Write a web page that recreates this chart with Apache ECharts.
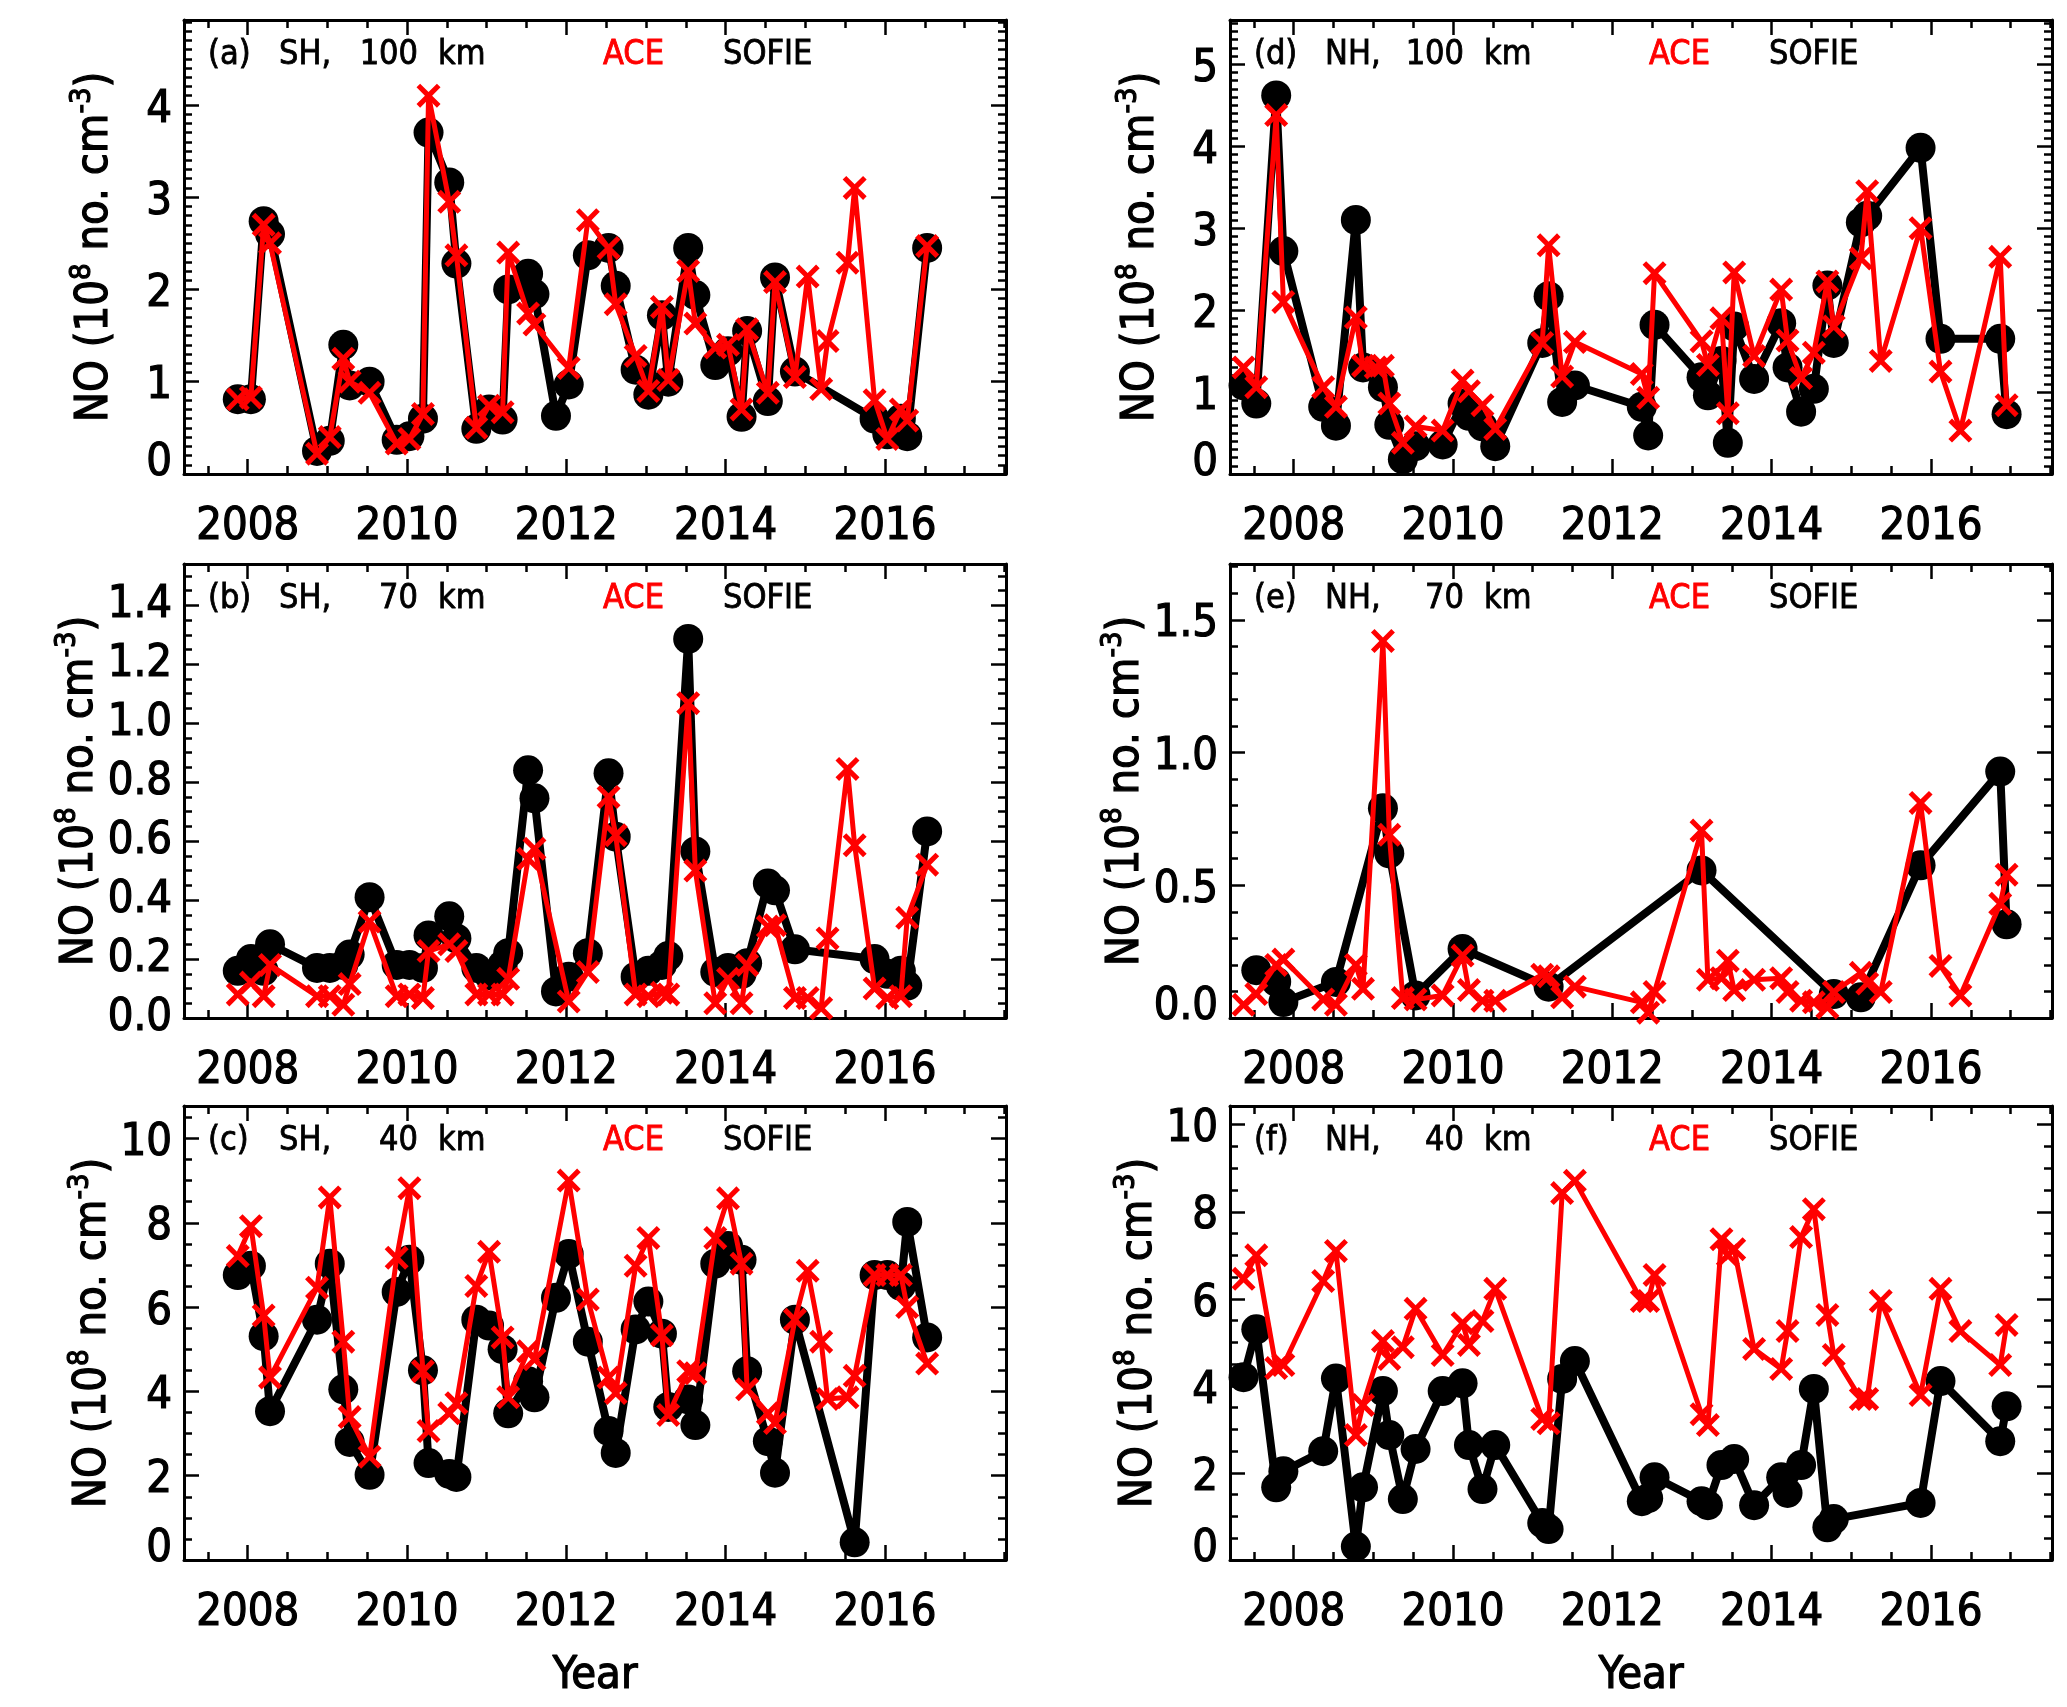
<!DOCTYPE html>
<html><head><meta charset="utf-8">
<script src="https://cdn.jsdelivr.net/npm/echarts@6/dist/echarts.min.js"></script>
<style>html,body{margin:0;padding:0;background:#fff}#c{width:2067px;height:1707px}</style>
</head><body><div id="c"></div>
<script>
// ---------- DATA ----------
const panelTags = ['(a)', '(b)', '(c)', '(d)', '(e)', '(f)'];
const panelHemis = ['SH,', 'SH,', 'SH,', 'NH,', 'NH,', 'NH,'];
const panelAlts = ['100', '70', '40', '100', '70', '40'];
const seriesNames = ['ACE', 'SOFIE'];
const yAxisTitleParts = ['NO (10', '8', ' no. cm', '-3', ')'];
const xAxisTitle = 'Year';

// (a) SH 100 km
const aSofieT = [2007.875,2008.04,2008.2,2008.28,2008.87,2009.03,2009.2,2009.28,2009.53,2009.87,2010.03,2010.2,2010.27,2010.53,2010.62,2010.87,2011.03,2011.2,2011.27,2011.52,2011.6,2011.87,2012.03,2012.27,2012.53,2012.62,2012.87,2013.03,2013.2,2013.28,2013.53,2013.62,2013.87,2014.03,2014.2,2014.27,2014.53,2014.62,2014.87,2015.87,2016.03,2016.2,2016.28,2016.53];
const aSofieV = [0.81,0.81,2.74,2.6,0.25,0.36,1.4,0.96,1.0,0.37,0.41,0.6,3.7,3.16,2.28,0.49,0.7,0.59,2.0,2.17,1.95,0.63,0.97,2.37,2.45,2.04,1.13,0.86,1.72,1.0,2.45,1.94,1.18,1.33,0.62,1.55,0.79,2.13,1.11,0.6,0.43,0.6,0.41,2.45];
const aAceT = [2007.875,2008.04,2008.2,2008.28,2008.87,2009.03,2009.2,2009.28,2009.53,2009.87,2010.03,2010.2,2010.27,2010.53,2010.62,2010.87,2011.03,2011.2,2011.27,2011.52,2011.6,2012.03,2012.27,2012.53,2012.62,2012.87,2013.03,2013.2,2013.28,2013.53,2013.62,2013.87,2014.03,2014.2,2014.27,2014.53,2014.62,2014.87,2015.03,2015.2,2015.28,2015.53,2015.62,2015.87,2016.03,2016.2,2016.28,2016.53];
const aAceV = [0.81,0.83,2.7,2.5,0.22,0.4,1.25,1.0,0.88,0.33,0.38,0.65,4.1,2.95,2.37,0.5,0.74,0.67,2.4,1.74,1.62,1.15,2.75,2.45,1.84,1.28,0.9,1.81,1.02,2.2,1.63,1.37,1.4,0.7,1.57,0.88,2.08,1.05,2.14,0.92,1.44,2.29,3.1,0.8,0.38,0.7,0.58,2.47];

// (b) SH 70 km
const bSofieT = aSofieT.slice();
const bSofieV = [0.16,0.2,0.16,0.25,0.17,0.17,0.18,0.215,0.41,0.18,0.18,0.17,0.28,0.345,0.27,0.17,0.145,0.18,0.22,0.84,0.745,0.09,0.14,0.22,0.83,0.615,0.14,0.16,0.18,0.21,1.286,0.565,0.156,0.17,0.15,0.186,0.456,0.433,0.233,0.2,0.15,0.16,0.11,0.633];
const bAceT = aAceT.slice();
const bAceV = [0.08,0.12,0.074,0.18,0.074,0.074,0.045,0.115,0.327,0.074,0.08,0.068,0.227,0.25,0.227,0.08,0.08,0.08,0.133,0.54,0.574,0.056,0.156,0.75,0.62,0.08,0.074,0.086,0.08,1.068,0.5,0.05,0.133,0.05,0.18,0.31,0.315,0.068,0.068,0.033,0.27,0.845,0.586,0.1,0.068,0.074,0.34,0.52];

// (c) SH 40 km
const cSofieT = [2007.875,2008.04,2008.2,2008.28,2008.87,2009.03,2009.2,2009.28,2009.53,2009.87,2010.03,2010.2,2010.27,2010.53,2010.62,2010.87,2011.03,2011.2,2011.27,2011.52,2011.6,2011.87,2012.03,2012.27,2012.53,2012.62,2012.87,2013.03,2013.2,2013.28,2013.53,2013.62,2013.87,2014.03,2014.2,2014.27,2014.53,2014.62,2014.87,2015.62,2015.87,2016.03,2016.2,2016.28,2016.53];
const cSofieV = [6.76,6.98,5.31,3.53,5.7,7.03,4.05,2.8,2.02,6.36,7.12,4.5,2.3,2.04,1.97,5.7,5.56,5.0,3.48,4.24,3.86,6.22,7.26,5.18,3.06,2.54,5.47,6.13,5.37,3.63,3.81,3.2,7.03,7.45,7.12,4.48,2.82,2.07,5.7,0.42,6.76,6.76,6.5,8.02,5.28];
const cAceT = aAceT.slice();
const cAceV = [7.21,7.92,5.8,4.33,6.46,8.6,5.18,3.39,2.45,7.17,8.82,4.48,3.06,3.48,3.72,6.5,7.31,5.28,3.86,4.95,4.76,9.0,6.18,4.33,3.96,6.98,7.64,5.33,3.44,4.48,4.43,7.64,8.58,7.03,4.05,3.48,3.25,5.7,6.86,5.18,3.82,3.86,4.37,6.76,6.76,6.76,6.0,4.66];

// (d) NH 100 km
const dSofieT = [2007.37,2007.53,2007.78,2007.87,2008.37,2008.53,2008.78,2008.87,2009.12,2009.2,2009.37,2009.53,2009.87,2010.12,2010.2,2010.37,2010.53,2011.12,2011.2,2011.37,2011.53,2012.37,2012.45,2012.53,2013.12,2013.2,2013.37,2013.45,2013.53,2013.78,2014.12,2014.2,2014.37,2014.53,2014.7,2014.78,2015.12,2015.2,2015.87,2016.12,2016.87,2016.95];
const dSofieV = [1.08,0.86,4.62,2.72,0.82,0.59,3.1,1.3,1.06,0.6,0.18,0.34,0.36,0.86,0.71,0.58,0.34,1.6,2.17,0.88,1.08,0.82,0.47,1.82,1.18,0.96,1.38,0.38,1.8,1.16,1.84,1.3,0.76,1.04,2.3,1.6,3.07,3.15,3.98,1.65,1.65,0.73];
const dAceT = [2007.37,2007.53,2007.78,2007.87,2008.37,2008.53,2008.78,2008.87,2009.03,2009.12,2009.2,2009.37,2009.53,2009.87,2010.12,2010.2,2010.37,2010.53,2011.12,2011.2,2011.37,2011.53,2012.37,2012.45,2012.53,2013.12,2013.2,2013.37,2013.45,2013.53,2013.78,2014.12,2014.2,2014.37,2014.53,2014.7,2014.78,2015.12,2015.2,2015.37,2015.87,2016.12,2016.37,2016.87,2016.95];
const dAceV = [1.3,1.06,4.38,2.1,1.06,0.82,1.91,1.32,1.3,1.32,0.86,0.38,0.58,0.53,1.14,1.01,0.84,0.55,1.6,2.79,1.19,1.61,1.22,0.93,2.45,1.62,1.33,1.9,0.74,2.46,1.44,2.25,1.63,1.17,1.48,2.35,1.8,2.63,3.45,1.38,3.0,1.25,0.53,2.65,0.84];

// (e) NH 70 km
const eSofieT = [2007.53,2007.78,2007.87,2008.53,2009.12,2009.2,2009.53,2010.12,2011.2,2013.12,2014.78,2015.12,2015.87,2016.87,2016.95];
const eSofieV = [0.18,0.137,0.06,0.136,0.79,0.62,0.085,0.26,0.118,0.556,0.09,0.078,0.575,0.928,0.353];
const eAceT = [2007.37,2007.53,2007.78,2007.87,2008.37,2008.53,2008.78,2008.87,2009.12,2009.2,2009.37,2009.53,2009.87,2010.12,2010.2,2010.37,2010.53,2011.12,2011.2,2011.37,2011.53,2012.37,2012.45,2012.53,2013.12,2013.2,2013.37,2013.45,2013.53,2013.78,2014.12,2014.2,2014.37,2014.53,2014.7,2014.78,2015.12,2015.2,2015.37,2015.87,2016.12,2016.37,2016.87,2016.95];
const eAceV = [0.05,0.09,0.2,0.22,0.07,0.05,0.2,0.11,1.42,0.69,0.075,0.07,0.085,0.235,0.105,0.065,0.065,0.163,0.157,0.078,0.118,0.059,0.02,0.098,0.706,0.144,0.15,0.216,0.105,0.144,0.15,0.098,0.065,0.059,0.04,0.098,0.17,0.13,0.098,0.81,0.196,0.085,0.43,0.54];

// (f) NH 40 km
const fSofieT = [2007.37,2007.53,2007.78,2007.87,2008.37,2008.53,2008.78,2008.87,2009.12,2009.2,2009.37,2009.53,2009.87,2010.12,2010.2,2010.37,2010.53,2011.12,2011.2,2011.37,2011.53,2012.37,2012.45,2012.53,2013.12,2013.2,2013.37,2013.53,2013.78,2014.12,2014.2,2014.37,2014.53,2014.7,2014.78,2015.87,2016.12,2016.87,2016.95];
const fSofieV = [4.2,5.3,1.67,2.04,2.5,4.17,0.31,1.67,3.88,2.87,1.4,2.55,3.88,4.06,2.64,1.63,2.64,0.85,0.71,4.16,4.57,1.35,1.42,1.9,1.35,1.26,2.18,2.32,1.26,1.9,1.54,2.18,3.93,0.75,0.94,1.31,4.11,2.73,3.53];
const fAceT = eAceT.slice();
const fAceV = [6.46,7.0,4.41,4.48,6.41,7.1,2.87,3.56,5.03,4.62,4.89,5.77,4.71,5.44,4.94,5.49,6.23,3.24,3.14,8.43,8.71,5.95,5.95,6.55,3.35,3.1,7.37,7.0,7.14,4.85,4.39,5.26,7.42,8.06,5.63,4.71,3.7,3.7,5.95,3.79,6.23,5.26,4.48,5.4];

// axis ranges
const xMin = 2007.2, xMax = 2017.52;
const yMaxes = [4.92, 1.54, 10.77, 5.54, 1.71, 10.43];
const yIntervals = [1, 0.2, 2, 1, 0.5, 2];
const yDecimals = [0, 1, 0, 0, 1, 0];

// ---------- LAYOUT / STYLE ----------
function hasFont(name) {
  const c = document.createElement('canvas').getContext('2d');
  const s = '2008 NO SOFIE (a) km';
  const res = [];
  for (const base of ['monospace', 'serif']) {
    c.font = '40px ' + base; const w1 = c.measureText(s).width;
    c.font = '40px "' + name + '", ' + base; const w2 = c.measureText(s).width;
    res.push(w1 !== w2);
  }
  return res[0] && res[1];
}
const COND = hasFont('DejaVu Sans Condensed');
const FONT = COND ? 'DejaVu Sans Condensed' : 'DejaVu Sans';
const FS_TICK = COND ? 45 : 41;
const FS_TITLE = COND ? 45 : 42;
const FS_SUP = COND ? 29 : 27;
const FS_PANEL = COND ? 34 : 31;
const TB = 1.2; // extra stroke to thicken glyphs

const gridPos = [[184,20],[184,564],[184,1106],[1230,20],[1230,564],[1230,1106]];
const GW = 822, GH = 454;
const yMinorSplit = [10, 4, 4, 10, 5, 4];
const labelShift = [true, false, true, true, true, true]; // nudge y labels like the original (not where ticks are dense)
const XMARK = 'path://M0,3 L3,0 L10,7 L17,0 L20,3 L13,10 L20,17 L17,20 L10,13 L3,20 L0,17 L7,10 Z';

const sofie = [[aSofieT,aSofieV],[bSofieT,bSofieV],[cSofieT,cSofieV],[dSofieT,dSofieV],[eSofieT,eSofieV],[fSofieT,fSofieV]];
const ace = [[aAceT,aAceV],[bAceT,bAceV],[cAceT,cAceV],[dAceT,dAceV],[eAceT,eAceV],[fAceT,fAceV]];
const zip = (t, v) => t.map((x, i) => [x, v[i]]);

const grids = [], xAxes = [], yAxes = [], series = [], graphics = [];
const tickStyle = {color:'#000', width:2.5};
const lineStyleAx = {color:'#000', width:3};
const txtBase = (fs) => ({fontSize: fs, fontFamily: FONT, color: '#000', textBorderColor: '#000', textBorderWidth: TB});

for (let i = 0; i < 6; i++) {
  const [gl, gt] = gridPos[i];
  grids.push({left: gl, top: gt, width: GW, height: GH, containLabel: false, outerBoundsMode: 'none'});
  const bottomPanel = (i === 2 || i === 5);
  const xBase = {
    gridIndex: i, type: 'value', min: xMin, max: xMax, minInterval: 2, maxInterval: 2,
    axisLine: {show: true, onZero: false, lineStyle: lineStyleAx},
    axisTick: {show: true, inside: true, length: 15, lineStyle: tickStyle},
    minorTick: {show: true, splitNumber: 4, length: 8, lineStyle: tickStyle},
    splitLine: {show: false}, minorSplitLine: {show: false}
  };
  xAxes.push(Object.assign({}, xBase, {
    position: 'bottom',
    axisLabel: Object.assign({show: true, showMinLabel: false, showMaxLabel: false, hideOverlap: false, margin: 31,
      formatter: v => String(Math.round(v))}, txtBase(FS_TICK)),
    name: bottomPanel ? xAxisTitle : '', nameLocation: 'middle', nameGap: 94,
    nameTextStyle: txtBase(FS_TITLE)
  }));
  xAxes.push(Object.assign({}, xBase, {position: 'top', axisLabel: {show: false}}));

  const dec = yDecimals[i];
  const sh = labelShift[i];
  const lblRich = {
    n: Object.assign({padding: sh ? [10,0,0,0] : 0}, txtBase(FS_TICK)),
    z: Object.assign({padding: sh ? [0,0,22,0] : 0}, txtBase(FS_TICK))
  };
  const yBase = {
    gridIndex: i, type: 'value', min: 0, max: yMaxes[i], interval: yIntervals[i],
    axisLine: {show: true, onZero: false, lineStyle: lineStyleAx},
    axisTick: {show: true, inside: true, length: 15, lineStyle: tickStyle},
    minorTick: {show: true, splitNumber: yMinorSplit[i], length: 8, lineStyle: tickStyle},
    splitLine: {show: false}, minorSplitLine: {show: false}
  };
  yAxes.push(Object.assign({}, yBase, {
    position: 'left',
    axisLabel: Object.assign({show: true, showMinLabel: true, showMaxLabel: false, hideOverlap: false, margin: 12,
      formatter: v => (Math.abs(v) < 1e-9 ? '{z|' + (0).toFixed(dec) + '}' : '{n|' + v.toFixed(dec) + '}'),
      rich: lblRich}, txtBase(FS_TICK)),
    name: '{b|' + yAxisTitleParts[0] + '}{s|' + yAxisTitleParts[1] + '}{b|' + yAxisTitleParts[2] + '}{s|' + yAxisTitleParts[3] + '}{b|' + yAxisTitleParts[4] + '}',
    nameLocation: 'middle', nameGap: 62,
    nameTextStyle: Object.assign({
      rich: {
        b: Object.assign({lineHeight: 54}, txtBase(FS_TITLE)),
        s: Object.assign({lineHeight: 28, verticalAlign: 'top'}, txtBase(FS_SUP))
      }}, txtBase(FS_TITLE))
  }));
  yAxes.push(Object.assign({}, yBase, {position: 'right', axisLabel: {show: false}}));

  series.push({
    name: seriesNames[1], type: 'line', xAxisIndex: 2*i, yAxisIndex: 2*i,
    data: zip(sofie[i][0], sofie[i][1]), symbol: 'circle', symbolSize: 30,
    showSymbol: true, showAllSymbol: true,
    lineStyle: {color: '#000', width: 8}, itemStyle: {color: '#000'}, z: 2, animation: false
  });
  series.push({
    name: seriesNames[0], type: 'line', xAxisIndex: 2*i, yAxisIndex: 2*i,
    data: zip(ace[i][0], ace[i][1]), symbol: XMARK, symbolSize: 24,
    showSymbol: true, showAllSymbol: true,
    lineStyle: {color: '#ff0000', width: 5}, itemStyle: {color: '#ff0000'}, z: 3, animation: false
  });

  // panel label tokens
  const ty = gt + 35;
  const txt = (x, s, color, align) => ({type: 'text', x: x, y: ty, z: 10,
    style: {text: s, fontSize: FS_PANEL, fontFamily: FONT, fill: color, stroke: color, lineWidth: 0.8,
      align: align || 'left', verticalAlign: 'middle'}});
  graphics.push(txt(gl + 24, panelTags[i], '#000'));
  graphics.push(txt(gl + 95, panelHemis[i], '#000'));
  graphics.push(txt(gl + 234, panelAlts[i], '#000', 'right'));
  graphics.push(txt(gl + 254, 'km', '#000'));
  graphics.push(txt(gl + 419, seriesNames[0], '#ff0000'));
  graphics.push(txt(gl + 539, seriesNames[1], '#000'));
}

const chart = echarts.init(document.getElementById('c'), null, {renderer: 'canvas'});
chart.setOption({
  backgroundColor: '#ffffff',
  animation: false,
  grid: grids, xAxis: xAxes, yAxis: yAxes, series: series, graphic: graphics
});
</script></body></html>
